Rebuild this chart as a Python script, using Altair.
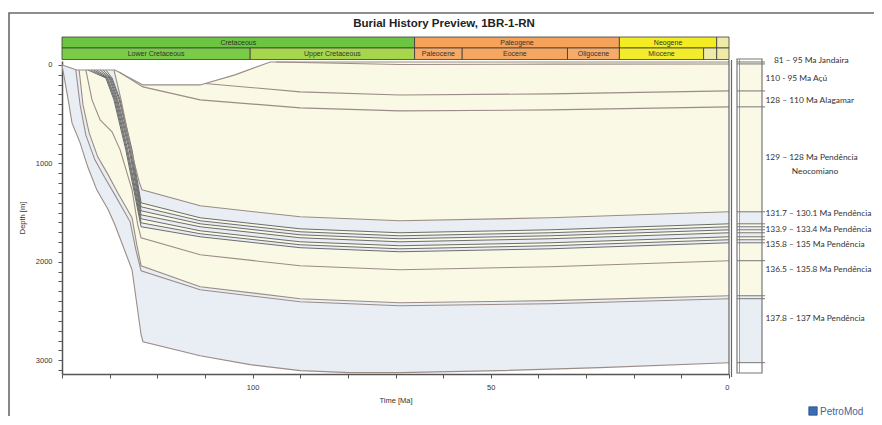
import altair as alt
import pandas as pd

# ---------------- data ----------------
TIME_DOMAIN = [140, 0]
DEPTH_DOMAIN = [-40, 3140]

# sediment surface (paleo water depth) through time
surf_t = [140.0, 136.9, 128.9, 123.0, 111.0, 103.7, 96.3, 0.0]
surf_d = [0, 51, 51, 203, 203, 101, -30, -30]

# horizons, oldest (deepest) first: time [Ma], depth [m]
h1378_t = [140.0, 138.7, 137.9, 136.2, 134.6, 132.7, 130.3, 128.9, 125.3, 123.4, 123.0, 111.0, 100.5, 90.0, 79.6, 69.1, 48.1, 27.1, 0.0]
h1378_d = [0, 355, 589, 792, 1035, 1269, 1472, 1624, 2081, 2741, 2812, 2954, 3045, 3106, 3126, 3126, 3106, 3075, 3025]

h137_t = [137.1, 136.2, 135.0, 133.1, 131.0, 128.9, 125.7, 124.5, 123.4, 111.0, 90.0, 69.1, 37.6, 0.0]
h137_d = [51, 406, 711, 964, 1147, 1320, 1594, 1878, 2091, 2284, 2406, 2446, 2426, 2375]

h1365_t = [136.4, 135.6, 134.3, 132.5, 130.3, 128.3, 125.3, 124.3, 123.4, 111.0, 90.0, 69.1, 37.6, 0.0]
h1365_d = [51, 406, 690, 934, 1117, 1299, 1553, 1827, 2040, 2253, 2375, 2416, 2395, 2345]

h1358_t = [135.0, 133.7, 132.0, 129.5, 127.8, 125.3, 124.1, 123.4, 111.0, 90.0, 69.1, 37.6, 0.0]
h1358_d = [51, 355, 558, 680, 863, 1269, 1624, 1756, 1929, 2040, 2081, 2050, 1989]

b0_t = [134.6, 130.8, 129.1, 126.6, 123.4, 111.0, 90.0, 69.1, 37.6, 0.0]
b0_d = [51, 132, 355, 863, 1644, 1746, 1857, 1898, 1868, 1807]
b1_t = [133.9, 130.6, 128.9, 126.4, 123.4, 111.0, 90.0, 69.1, 37.6, 0.0]
b1_d = [51, 132, 355, 863, 1604, 1715, 1827, 1868, 1837, 1776]
b2_t = [133.3, 130.4, 128.7, 126.2, 123.4, 111.0, 90.0, 69.1, 37.6, 0.0]
b2_d = [51, 132, 355, 863, 1563, 1685, 1797, 1837, 1807, 1746]
b3_t = [132.7, 130.1, 128.5, 125.9, 123.4, 111.0, 90.0, 69.1, 37.6, 0.0]
b3_d = [51, 132, 355, 863, 1523, 1644, 1756, 1797, 1766, 1705]
b4_t = [132.0, 129.9, 128.3, 125.7, 123.4, 111.0, 90.0, 69.1, 37.6, 0.0]
b4_d = [51, 132, 355, 863, 1482, 1614, 1726, 1766, 1736, 1675]
b5_t = [131.4, 129.7, 128.0, 125.5, 123.4, 111.0, 90.0, 69.1, 37.6, 0.0]
b5_d = [51, 132, 355, 863, 1441, 1583, 1695, 1736, 1705, 1644]
b6_t = [130.8, 129.5, 127.8, 125.3, 123.4, 111.0, 90.0, 69.1, 37.6, 0.0]
b6_d = [51, 132, 355, 863, 1401, 1553, 1665, 1705, 1675, 1614]

neo_t = [129.1, 127.6, 125.5, 123.8, 123.2, 111.0, 90.0, 69.1, 37.6, 0.0]
neo_d = [51, 355, 863, 1188, 1269, 1431, 1543, 1583, 1553, 1492]

ala_t = [128.0, 123.0, 111.0, 90.0, 69.1, 37.6, 0.0]
ala_d = [72, 223, 355, 436, 467, 457, 426]

acu_t = [110.0, 90.0, 69.1, 37.6, 0.0]
acu_d = [188, 274, 305, 294, 264]

jan_t = [95.1, 69.1, 37.6, 0.0]
jan_d = [-30, -5, -8, -10]

# lithology of the unit lying above each horizon
horizons = [
    (h1378_t, h1378_d, "sand", "main"),
    (h137_t, h137_d, "sand", "main"),
    (h1365_t, h1365_d, "shale", "main"),
    (h1358_t, h1358_d, "shale", "main"),
    (b0_t, b0_d, "sand", "thin"),
    (b1_t, b1_d, "shale", "thin"),
    (b2_t, b2_d, "sand", "thin"),
    (b3_t, b3_d, "shale", "thin"),
    (b4_t, b4_d, "sand", "thin"),
    (b5_t, b5_d, "shale", "thin"),
    (b6_t, b6_d, "sand", "thin"),
    (neo_t, neo_d, "shale", "main"),
    (ala_t, ala_d, "shale", "main"),
    (acu_t, acu_d, "shale", "main"),
    (jan_t, jan_d, "shale", "main"),
]

# stratigraphic time scale
era_names = ["Cretaceous", "Paleogene", "Neogene", ""]
era_start = [140, 66, 23, 2.58]
era_end = [66, 23, 2.58, 0]
era_color = ["#6cc540", "#f5a25a", "#f3ec22", "#efeba6"]

ep_names = ["Lower Cretaceous", "Upper Cretaceous", "Paleocene", "Eocene", "Oligocene", "Miocene", "", ""]
ep_start = [140, 100.5, 66, 56, 33.9, 23, 5.33, 2.58]
ep_end = [100.5, 66, 56, 33.9, 23, 5.33, 2.58, 0]
ep_color = ["#7acb48", "#a6d64c", "#f7a966", "#f6a661", "#f7ab68", "#f3ec2c", "#efeba6", "#efeba6"]

label_text = ["110 - 95 Ma Açú", "128 – 110 Ma Alagamar", "129 – 128 Ma Pendência",
              "131.7 – 130.1 Ma Pendência", "133.9 – 133.4 Ma Pendência",
              "135.8 – 135 Ma Pendência", "136.5 – 135.8 Ma Pendência", "137.8 – 137 Ma Pendência"]
label_depth = [132, 355, 934, 1502, 1665, 1817, 2071, 2568]
top_label = ["81 – 95 Ma Jandaira"]
top_label_depth = [-51]
sub_label = ["Neocomiano"]
sub_label_depth = [1076]

# ---------------- styling ----------------
FILL = {"sand": "#e9eef4", "shale": "#f9f9e5"}
LINE = {"main": ("#9a8c86", 1.1), "thin": ("#5e5e5e", 0.9)}
FONT = "Liberation Sans"
LFS = 8.4

xs = alt.Scale(domain=TIME_DOMAIN, nice=False, zero=False)
ys = alt.Scale(domain=DEPTH_DOMAIN, reverse=True, nice=False, zero=False)

x_axis = alt.Axis(values=list(range(0, 141, 10)), format="d",
                  labelExpr="datum.value % 50 === 0 ? datum.label : ''",
                  title="Time [Ma]", grid=False, tickSize=4, domainColor="#555",
                  tickColor="#555", domainWidth=1.5, labelFontSize=7.5, titleFontSize=7.5,
                  titleFontWeight="normal", labelColor="#333", titleColor="#333",
                  labelFont=FONT, titleFont=FONT, labelPadding=5, titlePadding=6)
y_axis = alt.Axis(values=list(range(0, 3101, 100)), format="d",
                  labelExpr="datum.value % 1000 === 0 ? datum.label : ''",
                  title="Depth [m]", grid=False, tickSize=4, domainColor="#555",
                  tickColor="#555", domainWidth=1.5, labelFontSize=7.5, titleFontSize=7.5,
                  titleFontWeight="normal", labelColor="#333", titleColor="#333",
                  labelFont=FONT, titleFont=FONT, labelPadding=6, titlePadding=9)


def X(field):
    return alt.X(field, scale=xs, axis=x_axis)


def Y(field):
    return alt.Y(field, scale=ys, axis=y_axis)


def polygon(ts, ds):
    pts = list(zip(ts, ds))
    back = [(t, d) for t, d in zip(surf_t, surf_d) if t < ts[0]]
    back.reverse()
    pts += back
    return pd.DataFrame({"t": [p[0] for p in pts], "d": [p[1] for p in pts],
                         "i": list(range(len(pts)))})


layers = []
for ts, ds, lith, style in horizons:
    df = polygon(ts, ds)
    layers.append(alt.Chart(df).mark_line(fill=FILL[lith], strokeOpacity=0,
                                          interpolate="linear-closed").encode(
        x=X("t:Q"), y=Y("d:Q"), order=alt.Order("i:Q")))

for ts, ds, lith, style in horizons:
    df = pd.DataFrame({"t": ts, "d": ds, "i": list(range(len(ts)))})
    col, w = LINE[style]
    layers.append(alt.Chart(df).mark_line(color=col, strokeWidth=w).encode(
        x=X("t:Q"), y=Y("d:Q"), order=alt.Order("i:Q")))

surf_df = pd.DataFrame({"t": surf_t, "d": surf_d, "i": list(range(len(surf_t)))})
layers.append(alt.Chart(surf_df).mark_line(color="#9a8c86", strokeWidth=1.1).encode(
    x=X("t:Q"), y=Y("d:Q"), order=alt.Order("i:Q")))

one = pd.DataFrame({"a": [0]})
# right boundary (present day)
layers.append(alt.Chart(one).mark_rule(color="#666", strokeWidth=1.2).encode(
    x=alt.value(667), y=alt.value(-1), y2=alt.value(313)))
layers.append(alt.Chart(one).mark_rule(color="#666", strokeWidth=1.2).encode(
    x=alt.value(669.5), y=alt.value(-1), y2=alt.value(316)))

# time scale bar
era_df = pd.DataFrame({"name": era_names, "s": era_start, "e": era_end, "c": era_color})
era_df["m"] = (era_df["s"] + era_df["e"]) / 2
ep_df = pd.DataFrame({"name": ep_names, "s": ep_start, "e": ep_end, "c": ep_color})
ep_df["m"] = (ep_df["s"] + ep_df["e"]) / 2

for df, y0, y1 in [(era_df, -24, -13), (ep_df, -13, -1.5)]:
    layers.append(alt.Chart(df).mark_rect(stroke="#3a3a3a", strokeWidth=0.8).encode(
        x=X("s:Q"), x2="e:Q",
        y=alt.value(y0), y2=alt.value(y1),
        fill=alt.Fill("c:N", scale=None, legend=None)))
    layers.append(alt.Chart(df).mark_text(fontSize=7, font=FONT, color="#333", baseline="middle").encode(
        x=X("m:Q"), y=alt.value((y0 + y1) / 2 + 0.5), text="name:N"))

# present-day column
pres = [h[1][-1] for h in horizons]
tops = pres[1:] + [surf_d[-1]]
col_df = pd.DataFrame({"b": pres, "tp": tops, "c": [FILL[h[2]] for h in horizons]})
layers.append(alt.Chart(col_df).mark_rect().encode(
    x=alt.value(677), x2=alt.value(700),
    y=Y("tp:Q"), y2="b:Q",
    fill=alt.Fill("c:N", scale=None, legend=None)))
layers.append(alt.Chart(one).mark_rect(fillOpacity=0, stroke="#777", strokeWidth=1.2).encode(
    x=alt.value(675), x2=alt.value(700), y=alt.value(-2), y2=alt.value(312)))
layers.append(alt.Chart(one).mark_rule(color="#888", strokeWidth=0.8).encode(
    x=alt.value(677.5), y=alt.value(-2), y2=alt.value(312)))
tick_df = pd.DataFrame({"d": pres + [surf_d[-1]]})
layers.append(alt.Chart(tick_df).mark_rule(color="#777", strokeWidth=1).encode(
    x=alt.value(675), x2=alt.value(703), y=Y("d:Q")))

lab_df = pd.DataFrame({"txt": label_text, "d": label_depth})
layers.append(alt.Chart(lab_df).mark_text(align="left", baseline="middle", fontSize=LFS,
                                          font="Lato", color="#333").encode(
    x=alt.value(703.5), y=Y("d:Q"), text="txt:N"))
layers.append(alt.Chart(pd.DataFrame({"txt": top_label, "d": top_label_depth})).mark_text(
    align="left", baseline="middle", fontSize=LFS, font="Lato", color="#333").encode(
    x=alt.value(712), y=Y("d:Q"), text="txt:N"))
layers.append(alt.Chart(pd.DataFrame({"txt": sub_label, "d": sub_label_depth})).mark_text(
    align="center", baseline="middle", fontSize=LFS, font="Lato", color="#333").encode(
    x=alt.value(753), y=Y("d:Q"), text="txt:N"))

# outer frame, title, logo
layers.append(alt.Chart(one).mark_rect(fillOpacity=0, stroke="#6a6a6a", strokeWidth=1.6).encode(
    x=alt.value(-53), x2=alt.value(840), y=alt.value(-48), y2=alt.value(370)))
layers.append(alt.Chart(pd.DataFrame({"txt": ["Burial History Preview, 1BR-1-RN"]})).mark_text(
    fontSize=11.5, fontWeight="bold", font=FONT, color="#222", baseline="middle").encode(
    x=alt.value(382), y=alt.value(-37), text="txt:N"))
layers.append(alt.Chart(one).mark_square(size=70, color="#3b6db3", opacity=1, stroke="#274d86",
                                         strokeWidth=0.8).encode(
    x=alt.value(751), y=alt.value(350)))
layers.append(alt.Chart(pd.DataFrame({"txt": ["PetroMod"]})).mark_text(
    align="left", baseline="middle", fontSize=10, font=FONT, color="#45649a").encode(
    x=alt.value(758), y=alt.value(351), text="txt:N"))

chart = alt.layer(*layers).properties(
    width=667, height=313, autosize="none",
    padding={"left": 54, "top": 53, "right": 145, "bottom": 42},
    background="white",
).configure_view(stroke=None)

chart.save("out.html", embed_options={"renderer": "svg", "actions": False})
